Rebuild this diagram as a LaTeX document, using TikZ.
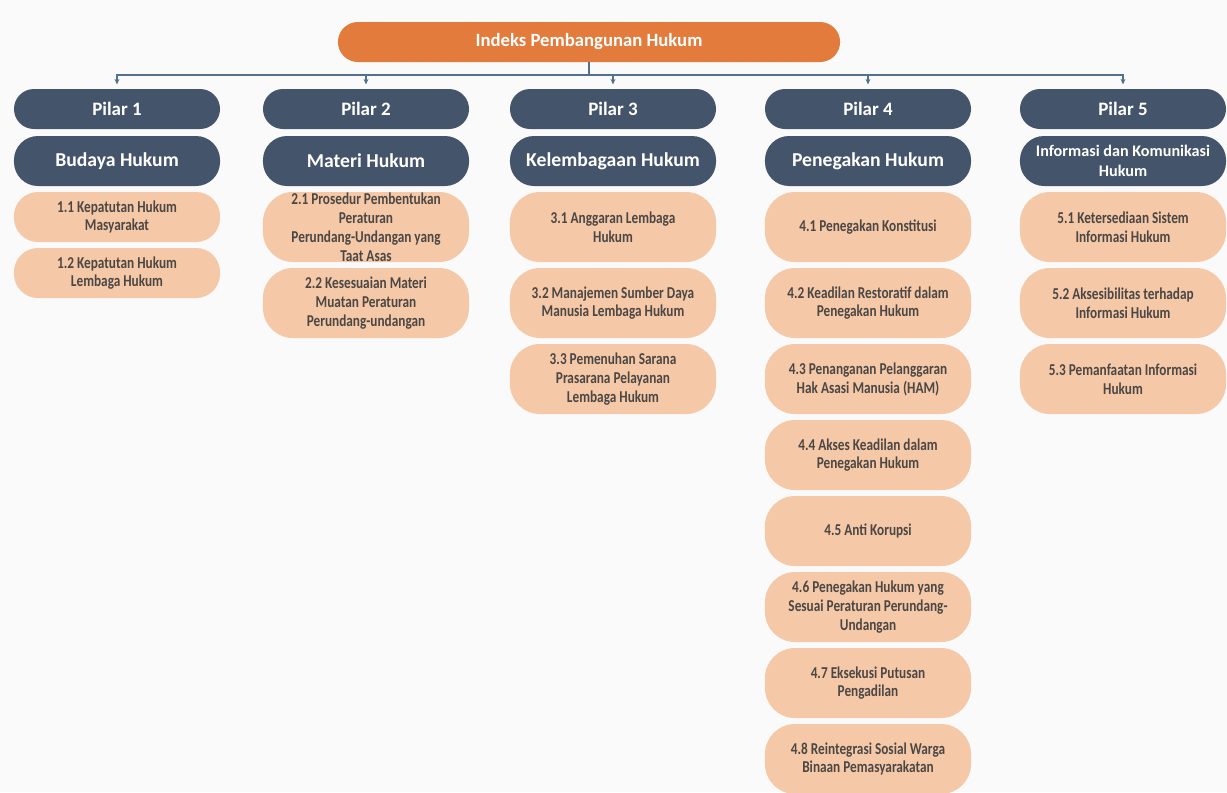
\documentclass[tikz,border=0pt]{standalone}
\usepackage{fontspec}
\setmainfont{Carlito}
\newfontfamily\itemfont[FakeStretch=0.8]{Carlito}
\usetikzlibrary{arrows.meta}

\begin{document}
\begin{tikzpicture}[x=0.025cm,y=-0.025cm,
    pilarbox/.style={fill=pilarblue, text=white, rounded corners=0.5cm,
        minimum width=5.15cm, minimum height=1cm, inner sep=0pt, align=center,
        font=\bfseries\fontsize{13.5}{15}\selectfont},
    headbox/.style={pilarbox, rounded corners=0.6cm, minimum height=1.25cm,
        font=\bfseries\fontsize{14}{16}\selectfont},
    itembox/.style={fill=itempeach, text=itemgray, rounded corners=0.75cm,
        minimum width=5.15cm, minimum height=1.75cm, inner sep=0pt, align=center,
        font=\itemfont\bfseries\fontsize{11.8}{13.4}\selectfont},
    smallitem/.style={itembox, rounded corners=0.6cm, minimum height=1.25cm},
    link/.style={draw=linkblue, line width=0.9pt},
    tip/.style={link, -{Stealth[length=4pt,width=3.5pt]}, shorten >=3pt}]
    % Define colors
    \definecolor{titleorange}{HTML}{E27B3B}
    \definecolor{pilarblue}{HTML}{44546A}
    \definecolor{itempeach}{HTML}{F5C8A8}
    \definecolor{itemgray}{HTML}{4B4744}
    \definecolor{linkblue}{HTML}{52718F}

    \def\ca{117}
    \def\cb{366}
    \def\cc{613}
    \def\cd{868}
    \def\ce{1123}

    % Page
    \fill[white!98!black] (0,0) rectangle (1227,792);
    \useasboundingbox (0,0) rectangle (1227,792);

    % Title
    \node[fill=titleorange, text=white, rounded corners=0.5cm, minimum width=12.55cm,
        minimum height=1cm, font=\bfseries\fontsize{13.3}{15}\selectfont] (title) at (589,42)
        {Indeks Pembangunan Hukum};

    % Pillars
    \node[pilarbox] (p1) at (\ca,109) {Pilar 1};
    \node[pilarbox] (p2) at (\cb,109) {Pilar 2};
    \node[pilarbox] (p3) at (\cc,109) {Pilar 3};
    \node[pilarbox] (p4) at (\cd,109) {Pilar 4};
    \node[pilarbox] (p5) at (\ce,109) {Pilar 5};

    \node[headbox] (h1) at (\ca,161) {Budaya Hukum};
    \node[headbox] (h2) at (\cb,161) {Materi Hukum};
    \node[headbox] (h3) at (\cc,161) {Kelembagaan Hukum};
    \node[headbox] (h4) at (\cd,161) {Penegakan Hukum};
    \node[headbox, font=\bfseries\fontsize{11.5}{14}\selectfont] (h5) at (\ce,161)
        {Informasi dan Komunikasi\\Hukum};

    % Connectors
    \coordinate (bus) at (589,75);
    \draw[link] (title.south) -- (bus);
    \foreach \i in {1,...,5} {
        \draw[tip] (bus) -| (p\i.north);
    }

    % Pilar 1 items
    \node[smallitem] (i11) at (\ca,217) {1.1 Kepatutan Hukum\\Masyarakat};
    \node[smallitem] (i12) at (\ca,273) {1.2 Kepatutan Hukum\\Lembaga Hukum};

    % Pilar 2 items
    \node[itembox] (i21) at (\cb,227) {2.1 Prosedur Pembentukan\\Peraturan\\Perundang-Undangan yang\\Taat Asas};
    \node[itembox] (i22) at (\cb,303) {2.2 Kesesuaian Materi\\Muatan Peraturan\\Perundang-undangan};

    % Pilar 3 items
    \node[itembox] (i31) at (\cc,227) {3.1 Anggaran Lembaga\\Hukum};
    \node[itembox] (i32) at (\cc,303) {3.2 Manajemen Sumber Daya\\Manusia Lembaga Hukum};
    \node[itembox] (i33) at (\cc,379) {3.3 Pemenuhan Sarana\\Prasarana Pelayanan\\Lembaga Hukum};

    % Pilar 4 items
    \node[itembox] (i41) at (\cd,227) {4.1 Penegakan Konstitusi};
    \node[itembox] (i42) at (\cd,303) {4.2 Keadilan Restoratif dalam\\Penegakan Hukum};
    \node[itembox] (i43) at (\cd,379) {4.3 Penanganan Pelanggaran\\Hak Asasi Manusia (HAM)};
    \node[itembox] (i44) at (\cd,455) {4.4 Akses Keadilan dalam\\Penegakan Hukum};
    \node[itembox] (i45) at (\cd,531) {4.5 Anti Korupsi};
    \node[itembox] (i46) at (\cd,607) {4.6 Penegakan Hukum yang\\Sesuai Peraturan Perundang-\\Undangan};
    \node[itembox] (i47) at (\cd,683) {4.7 Eksekusi Putusan\\Pengadilan};
    \node[itembox] (i48) at (\cd,759) {4.8 Reintegrasi Sosial Warga\\Binaan Pemasyarakatan};

    % Pilar 5 items
    \node[itembox] (i51) at (\ce,227) {5.1 Ketersediaan Sistem\\Informasi Hukum};
    \node[itembox] (i52) at (\ce,303) {5.2 Aksesibilitas terhadap\\Informasi Hukum};
    \node[itembox] (i53) at (\ce,379) {5.3 Pemanfaatan Informasi\\Hukum};
\end{tikzpicture}
\end{document}
